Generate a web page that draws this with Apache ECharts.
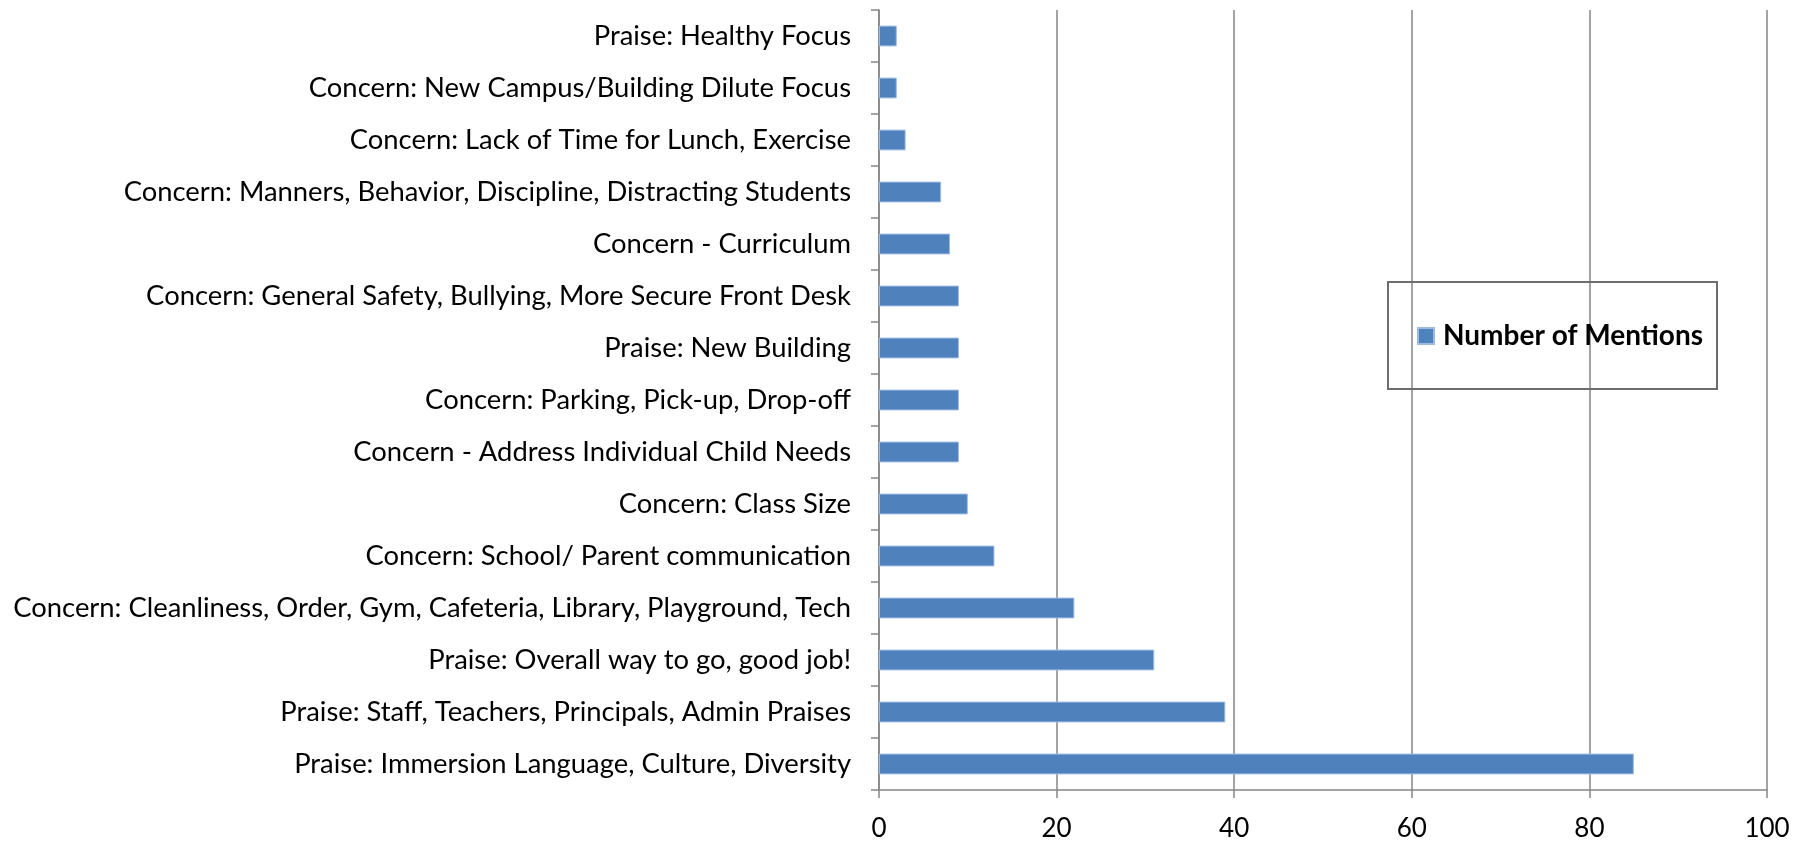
<!DOCTYPE html>
<html>
<head>
<meta charset="utf-8">
<script src="https://cdn.jsdelivr.net/npm/echarts@6/dist/echarts.min.js"></script>
<style>
  html, body { margin: 0; padding: 0; background: #fff; }
  #chart { width: 1801px; height: 845px; }
</style>
</head>
<body>
<div id="chart"></div>
<script>
// categories, top to bottom
const categories = [
  'Praise: Healthy Focus',
  'Concern: New Campus/Building Dilute Focus',
  'Concern: Lack of Time for Lunch, Exercise',
  'Concern: Manners, Behavior, Discipline, Distracting Students',
  'Concern - Curriculum',
  'Concern: General Safety, Bullying, More Secure Front Desk',
  'Praise: New Building',
  'Concern: Parking, Pick-up, Drop-off',
  'Concern - Address Individual Child Needs',
  'Concern: Class Size',
  'Concern: School/ Parent communication',
  'Concern: Cleanliness, Order, Gym, Cafeteria, Library, Playground, Tech',
  'Praise: Overall way to go, good job!',
  'Praise: Staff, Teachers, Principals, Admin Praises',
  'Praise: Immersion Language, Culture, Diversity'
];
const mentions = [2, 2, 3, 7, 8, 9, 9, 9, 9, 10, 13, 22, 31, 39, 85];
const xTicks = [0, 20, 40, 60, 80, 100];
const seriesName = 'Number of Mentions';

const chart = echarts.init(document.getElementById('chart'));

const axisGrey = '#868686';
const font = 'Lato, "Open Sans", sans-serif';

chart.setOption({
  animation: false,
  grid: { left: 879, right: 34, top: 10, bottom: 55 },
  legend: {
    data: [seriesName],
    icon: 'rect',
    left: 1388,
    top: 282,
    orient: 'vertical',
    itemWidth: 16,
    itemHeight: 16,
    borderColor: '#6d6d6d',
    borderWidth: 2,
    padding: [40, 14, 39, 29],
    textStyle: { fontFamily: font, fontSize: 28, fontWeight: 'bold', color: '#000', padding: [0, 0, 0, 4] }
  },
  xAxis: {
    type: 'value',
    min: xTicks[0],
    max: xTicks[xTicks.length - 1],
    interval: 20,
    axisLine: { show: true, lineStyle: { color: axisGrey, width: 1.5 } },
    axisTick: { show: true, length: 8, lineStyle: { color: axisGrey, width: 1.5 } },
    splitLine: { show: true, lineStyle: { color: axisGrey, width: 1.5 } },
    axisLabel: { margin: 26, fontFamily: font, fontSize: 26, color: '#000' }
  },
  yAxis: {
    type: 'category',
    data: categories,
    inverse: true,
    axisLine: { show: true, lineStyle: { color: axisGrey, width: 1.5 } },
    axisTick: { show: true, length: 8, lineStyle: { color: axisGrey, width: 1.5 } },
    axisLabel: { margin: 28, fontFamily: font, fontSize: 27.4, color: '#000' }
  },
  series: [{
    name: seriesName,
    type: 'bar',
    data: mentions,
    barCategoryGap: '60%',
    itemStyle: { color: '#4f81bd', borderColor: '#9dbbe0', borderWidth: 1 }
  }]
});
</script>
</body>
</html>
